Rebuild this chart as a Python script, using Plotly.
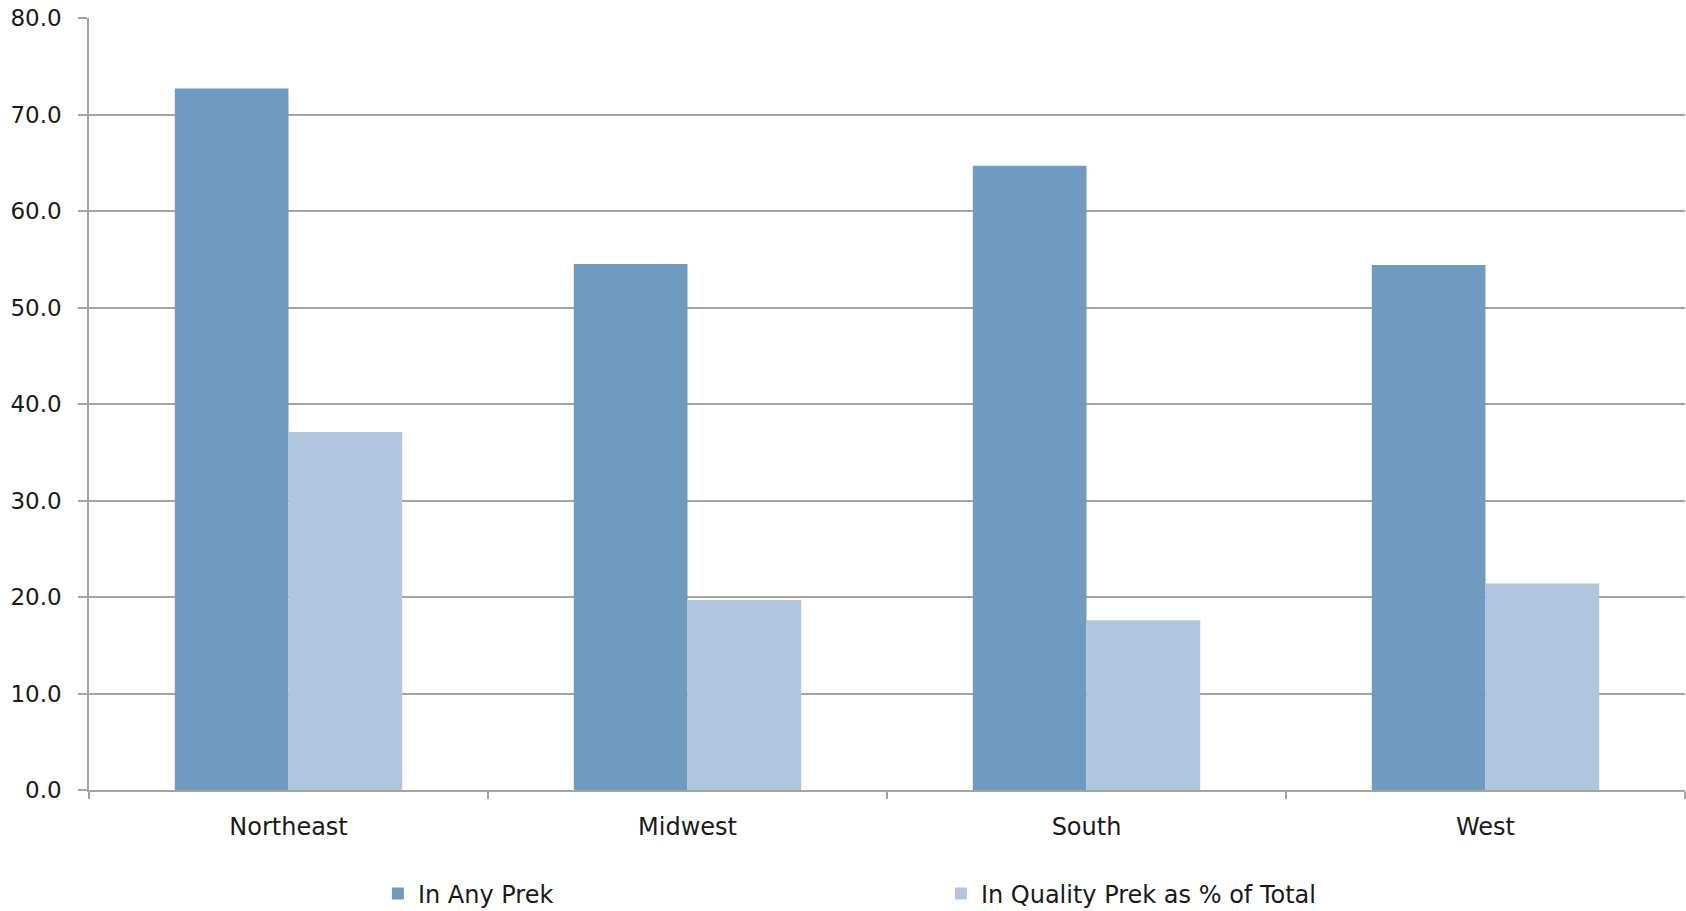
import plotly.graph_objects as go

regions = ["Northeast", "Midwest", "South", "West"]
any_prek = [72.7, 54.5, 64.7, 54.4]
quality_prek = [37.1, 19.7, 17.6, 21.4]
series_names = ["In Any Prek", "In Quality Prek as % of Total"]
y_ticks = [0, 10, 20, 30, 40, 50, 60, 70, 80]

dark = "#6F9BC0"
light = "#AFC6DE"
grid = "#A3A3A3"
font_family = "DejaVu Sans"

fig = go.Figure()
fig.add_trace(go.Bar(x=regions, y=any_prek, name=series_names[0],
                     marker=dict(color=dark, line=dict(width=0))))
fig.add_trace(go.Bar(x=regions, y=quality_prek, name=series_names[1],
                     marker=dict(color=light, line=dict(width=0))))

fig.update_layout(
    width=1686, height=911,
    margin=dict(l=89, r=1, t=18, b=121, autoexpand=False),
    paper_bgcolor="white", plot_bgcolor="white",
    barmode="group", bargap=0.43, bargroupgap=0,
    font=dict(family=font_family, size=22, color="#1A1A1A"),
    legend=dict(orientation="h", x=0.181, xanchor="left", y=-0.1347, yanchor="middle",
                entrywidth=518, entrywidthmode="pixels", itemsizing="constant",
                font=dict(size=24, color="#1A1A1A"), traceorder="normal"),
    showlegend=True,
)
fig.update_xaxes(
    showline=True, linecolor=grid, linewidth=1.5,
    ticks="outside", tickson="boundaries", ticklen=7, tickcolor=grid, tickwidth=1.5,
    showgrid=False, ticklabelstandoff=14, tickfont=dict(size=24),
)
fig.update_yaxes(
    range=[0, 80], tickvals=y_ticks, tickformat=".1f",
    showline=True, linecolor=grid, linewidth=1.5,
    ticks="outside", ticklen=9, tickcolor=grid, tickwidth=1.5,
    showgrid=True, gridcolor=grid, gridwidth=1.8, zeroline=False,
    ticklabelstandoff=12, tickfont=dict(size=23),
)

fig.write_html("out.html",
               config={"displayModeBar": False},
               post_script="document.body.style.margin='0';document.body.style.overflow='hidden';")
